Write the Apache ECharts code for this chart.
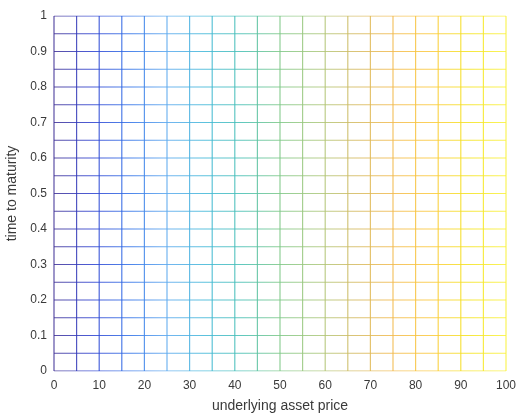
<!DOCTYPE html>
<html><head><meta charset="utf-8">
<script src="https://cdn.jsdelivr.net/npm/echarts@6/dist/echarts.min.js"></script>
<style>html,body{margin:0;padding:0;background:#fff}#c{width:517px;height:415px}</style>
</head><body><div id="c"></div>
<script>
const xValues = [0,5,10,15,20,25,30,35,40,45,50,55,60,65,70,75,80,85,90,95,100];
const yValues = [0,0.05,0.1,0.15,0.2,0.25,0.3,0.35,0.4,0.45,0.5,0.55,0.6,0.65,0.7,0.75,0.8,0.85,0.9,0.95,1];
const xTicks = [0,10,20,30,40,50,60,70,80,90,100];
const yTicks = [0,0.1,0.2,0.3,0.4,0.5,0.6,0.7,0.8,0.9,1];
const xTitle = 'underlying asset price';
const yTitle = 'time to maturity';
const parula = ['#3e2f95','#2b3fd0','#2f6fe8','#5aa8ee','#3fb7d8','#45bfb2','#7cc785','#a9c77a','#d4b95e','#f2b94a','#fbc93a','#f4e21c','#f9f23c'];

const series = [];
yValues.forEach(y => {
  series.push({type:'line', data: xValues.map(x => [x, y]), showSymbol:false, silent:true,
    lineStyle:{width:1.2, opacity:0.85}, z:2});
});
xValues.forEach(x => {
  series.push({type:'line', data: yValues.map(y => [x, y]), showSymbol:false, silent:true,
    lineStyle:{width:1.2, opacity:0.85}, z:2});
});

const txt = '#3a3a3a';
const chart = echarts.init(document.getElementById('c'), null, {renderer:'canvas'});
chart.setOption({
  animation:false,
  backgroundColor:'#fff',
  grid:{left:54, right:11, top:16, bottom:44, containLabel:false, outerBoundsMode:'none'},
  visualMap:{show:false, type:'continuous', dimension:0, min:0, max:100, inRange:{color:parula}, seriesIndex: series.map((s,i)=>i)},
  xAxis:{type:'value', min:0, max:100, interval:10,
    name:xTitle, nameLocation:'middle', nameGap:28,
    nameTextStyle:{color:txt, fontSize:14, fontFamily:'Liberation Sans'},
    axisLine:{show:false}, axisTick:{show:false}, splitLine:{show:false},
    axisLabel:{color:txt, fontSize:12, fontFamily:'Liberation Sans', margin:9,
      formatter:v => xTicks.includes(v) ? String(v) : ''}},
  yAxis:{type:'value', min:0, max:1, interval:0.1,
    name:yTitle, nameLocation:'middle', nameGap:26, nameRotate:90,
    nameTextStyle:{color:txt, fontSize:14, fontFamily:'Liberation Sans'},
    axisLine:{show:false}, axisTick:{show:false}, splitLine:{show:false},
    axisLabel:{color:txt, fontSize:12, fontFamily:'Liberation Sans', margin:7,
      formatter:v => { const t = yTicks.find(k => Math.abs(k - v) < 1e-9); return t === undefined ? '' : String(t); }}},
  series: series
});
</script></body></html>
